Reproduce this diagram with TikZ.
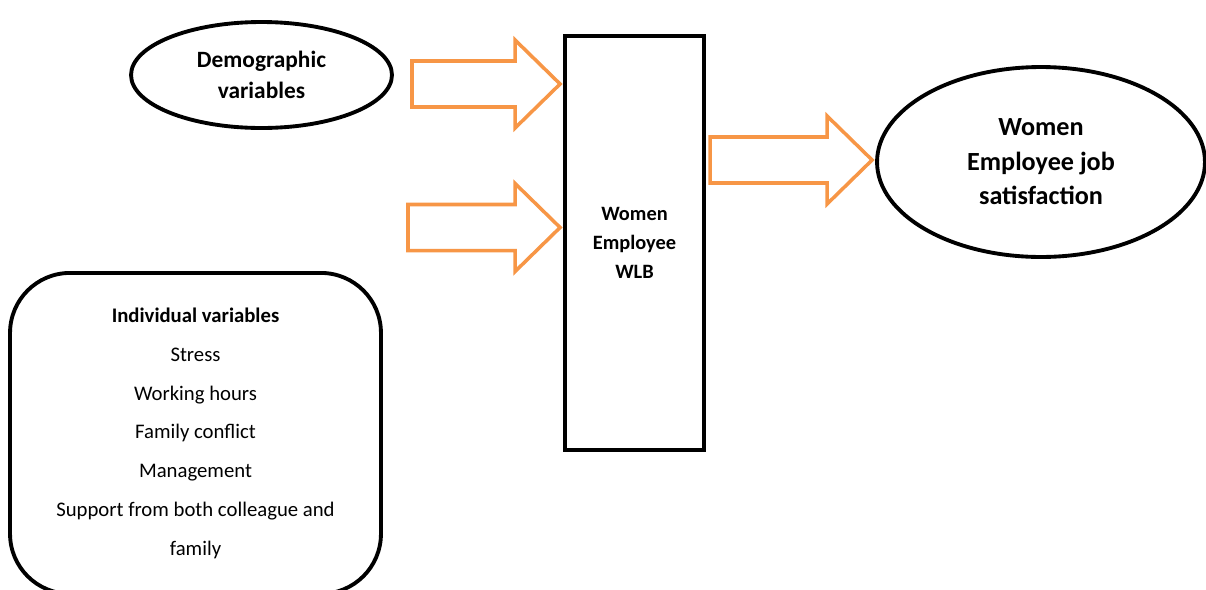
\documentclass[tikz,border=0pt]{standalone}
\usepackage{fontspec}
\setmainfont{Carlito}
\usepackage{tikz}
\usetikzlibrary{calc,shapes.geometric}
\definecolor{wlborange}{HTML}{F79646}

\begin{document}
\begin{tikzpicture}[
  x=0.02cm, y=-0.02cm,
  var/.style     ={ellipse, draw, line width=2.2pt, inner sep=0pt, align=center,
                   font=\bfseries\fontsize{13.3pt}{17.6pt}\selectfont},
  core/.style    ={rectangle, draw, line width=2.2pt, align=center,
                   minimum width=2.78cm, minimum height=8.28cm,
                   font=\bfseries\fontsize{11.6pt}{16.7pt}\selectfont},
  listbox/.style ={draw, line width=2.2pt, rounded corners=1.2cm, align=center,
                   minimum width=7.42cm, inner ysep=0.7cm,
                   font=\fontsize{11.8pt}{22.1pt}\selectfont},
  blk/.style     ={draw=wlborange, line width=2pt, fill=white, line join=miter,
                   to path={([shift={(0,-23)}]\tikztostart)
                     -- ([shift={(-48,-23)}]\tikztotarget)
                     -- ([shift={(-48,-44)}]\tikztotarget)
                     -- ([shift={(-3,0)}]\tikztotarget)
                     -- ([shift={(-48,44)}]\tikztotarget)
                     -- ([shift={(-48,23)}]\tikztotarget)
                     -- ([shift={(0,23)}]\tikztostart) -- cycle}},
]
\clip (0,0) rectangle (1206,589);

% ---------------- inputs -----------------------------------------------
\node[var, minimum width=5.22cm, minimum height=2.12cm] (demo) at (261.5,75)
  {Demographic\\variables};

\node[listbox, anchor=north] (indiv) at (195.5,271)
  {\textbf{Individual variables}\\Stress\\Working hours\\Family conflict\\
   Management\\Support from both colleague and\\family};

% ---------------- mediator and outcome ---------------------------------
\node[core] (wlb) at (634.5,243) {Women\\Employee\\WLB};

\node[var, font=\bfseries\fontsize{14.9pt}{19.6pt}\selectfont,
      minimum width=6.56cm, minimum height=3.8cm] (job) at (1041,162)
  {Women\\Employee job\\satisfaction};

% ---------------- block arrows -----------------------------------------
\coordinate (tailA) at (412,84);
\coordinate (tailB) at (408,227.5);
\coordinate (tailC) at (710,160);

\draw[blk] (tailA) to (tailA -| wlb.west);
\draw[blk] (tailB) to (tailB -| wlb.west);
\draw[blk] (tailC) to (tailC -| job.west);

\end{tikzpicture}
\end{document}
